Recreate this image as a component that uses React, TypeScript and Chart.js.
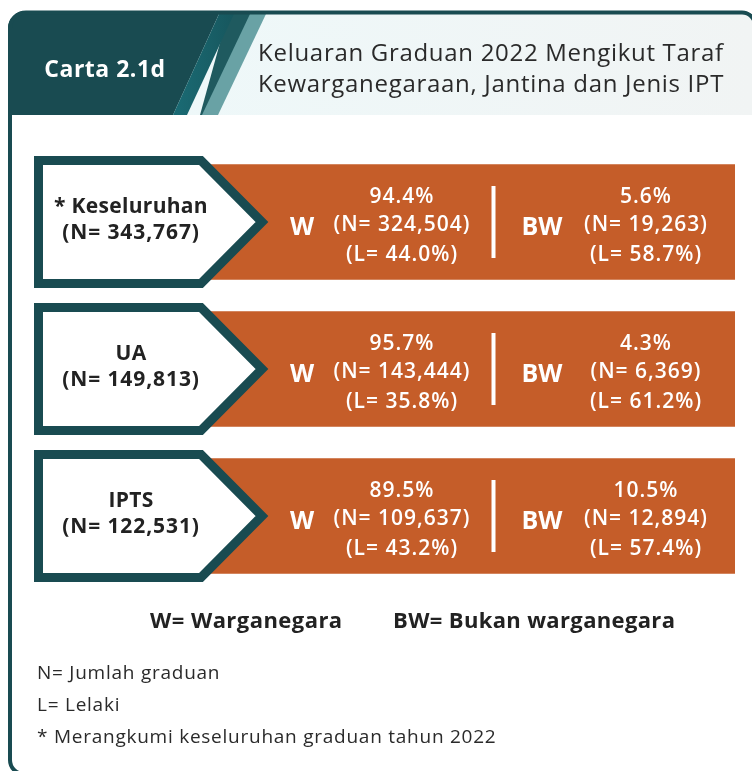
import React, { useEffect, useRef } from 'react';
import { Chart, registerables } from 'chart.js';

Chart.register(...registerables);

// ---------- data ----------
const categories = ['* Keseluruhan', 'UA', 'IPTS'];
const totalN = [343767, 149813, 122531];
const wPct = [94.4, 95.7, 89.5];
const wN = [324504, 143444, 109637];
const wMale = [44.0, 35.8, 43.2];
const bwPct = [5.6, 4.3, 10.5];
const bwN = [19263, 6369, 12894];
const bwMale = [58.7, 61.2, 57.4];
const bandValue = [100, 100, 100];

const chartCode = 'Carta 2.1d';
const titleLines = ['Keluaran Graduan 2022 Mengikut Taraf', 'Kewarganegaraan, Jantina dan Jenis IPT'];
const legendItems = ['W= Warganegara', 'BW= Bukan warganegara'];
const notes = ['N= Jumlah graduan', 'L= Lelaki', '* Merangkumi keseluruhan graduan tahun 2022'];

// ---------- style ----------
const DARK = '#194b51';
const ORANGE = '#c55d29';
const FONT = '"Open Sans", "Noto Sans", sans-serif';
const W = 752;
const H = 771;

const fmt = (n: number) => n.toLocaleString('en-US');
const pct = (v: number) => v.toFixed(1) + '%';

const infographicPlugin = {
  id: 'infographic',
  beforeDraw(chart: any) {
    const ctx = chart.ctx as CanvasRenderingContext2D;
    ctx.save();
    ctx.fillStyle = '#ffffff';
    ctx.fillRect(0, 0, W, H);

    // header clip (card top area)
    ctx.save();
    ctx.beginPath();
    ctx.moveTo(8, 200);
    ctx.lineTo(8, 28);
    ctx.arcTo(8, 11, 25, 11, 17);
    ctx.lineTo(741, 11);
    ctx.arcTo(756, 11, 756, 26, 14);
    ctx.lineTo(756, 200);
    ctx.closePath();
    ctx.clip();
    ctx.fillStyle = DARK;
    ctx.fillRect(0, 0, W, 115);
    const g = ctx.createLinearGradient(174, 0, 752, 0);
    g.addColorStop(0, '#eef8f9');
    g.addColorStop(1, '#f1f4f4');
    ctx.fillStyle = g;
    ctx.beginPath();
    ctx.moveTo(219, 14);
    ctx.lineTo(760, 14);
    ctx.lineTo(760, 115);
    ctx.lineTo(173, 115);
    ctx.closePath();
    ctx.fill();
    // dark wedge
    ctx.fillStyle = '#1f5a5f';
    ctx.beginPath();
    ctx.moveTo(228, 14);
    ctx.lineTo(252, 14);
    ctx.lineTo(204, 115);
    ctx.lineTo(200, 115);
    ctx.closePath();
    ctx.fill();
    // medium stripe
    const g2 = ctx.createLinearGradient(173, 0, 233, 0);
    g2.addColorStop(0, '#1a6b74');
    g2.addColorStop(1, '#17575e');
    ctx.fillStyle = g2;
    ctx.beginPath();
    ctx.moveTo(219, 14);
    ctx.lineTo(234, 14);
    ctx.lineTo(187, 115);
    ctx.lineTo(173, 115);
    ctx.closePath();
    ctx.fill();
    // light stripe
    ctx.fillStyle = '#69a2a5';
    ctx.beginPath();
    ctx.moveTo(250, 14);
    ctx.lineTo(266, 14);
    ctx.lineTo(218, 115);
    ctx.lineTo(202, 115);
    ctx.closePath();
    ctx.fill();
    ctx.restore();

    // card border: left side and top only (the rest runs off the page)
    ctx.strokeStyle = DARK;
    ctx.lineWidth = 4;
    ctx.beginPath();
    ctx.moveTo(40, 774);
    ctx.arcTo(10, 774, 10, 740, 14);
    ctx.lineTo(10, 28.5);
    ctx.arcTo(10, 12.5, 26, 12.5, 16);
    ctx.lineTo(742, 12.5);
    ctx.arcTo(755, 12.5, 755, 26, 13);
    ctx.lineTo(755, 60);
    ctx.stroke();
    ctx.restore();
  },
  afterDatasetsDraw(chart: any) {
    const ctx = chart.ctx as CanvasRenderingContext2D;
    const y = chart.scales.y;
    ctx.save();
    categories.forEach((cat, i) => {
      const c = y.getPixelForValue(i);
      // pentagon label box
      ctx.beginPath();
      ctx.moveTo(38.5, c - 61.5);
      ctx.lineTo(201, c - 61.5);
      ctx.lineTo(262, c);
      ctx.lineTo(201, c + 61.5);
      ctx.lineTo(38.5, c + 61.5);
      ctx.closePath();
      ctx.fillStyle = '#ffffff';
      ctx.fill();
      ctx.lineWidth = 9;
      ctx.lineJoin = 'miter';
      ctx.strokeStyle = DARK;
      ctx.stroke();

      ctx.textAlign = 'center';
      ctx.textBaseline = 'middle';
      ctx.fillStyle = '#222222';
      ctx.font = `bold 21px ${FONT}`;
      (ctx as any).letterSpacing = '0.3px';
      ctx.fillText(cat, 131, c - 15);
      (ctx as any).letterSpacing = '0.9px';
      ctx.fillText(`(N= ${fmt(totalN[i])})`, 131, c + 11);

      // W side
      ctx.fillStyle = '#ffffff';
      (ctx as any).letterSpacing = '0px';
      ctx.font = `bold 25px ${FONT}`;
      ctx.fillText('W', 302, c + 6);
      ctx.font = `600 21px ${FONT}`;
      (ctx as any).letterSpacing = '1px';
      ctx.fillText(pct(wPct[i]), 402, c - 25);
      ctx.fillText(`(N= ${fmt(wN[i])})`, 402, c + 3);
      ctx.fillText(`(L= ${pct(wMale[i])})`, 402, c + 33);

      // divider
      ctx.fillRect(491.5, c - 36, 4, 72);

      // BW side
      (ctx as any).letterSpacing = '0px';
      ctx.font = `bold 25px ${FONT}`;
      ctx.fillText('BW', 542, c + 6);
      ctx.font = `600 21px ${FONT}`;
      (ctx as any).letterSpacing = '1px';
      ctx.fillText(pct(bwPct[i]), 646, c - 25);
      ctx.fillText(`(N= ${fmt(bwN[i])})`, 646, c + 3);
      ctx.fillText(`(L= ${pct(bwMale[i])})`, 646, c + 33);
    });
    ctx.restore();
  },
};

export default function App() {
  const ref = useRef<HTMLCanvasElement>(null);
  useEffect(() => {
    if (!ref.current) return;
    const chart = new Chart(ref.current, {
      type: 'bar',
      data: {
        labels: categories,
        datasets: [
          {
            data: bandValue,
            backgroundColor: ORANGE,
            borderWidth: 0,
            barThickness: 115,
          },
        ],
      },
      options: {
        indexAxis: 'y',
        responsive: false,
        animation: false,
        events: [],
        layout: { padding: { left: 200, right: 17, top: 148.5, bottom: 181.5 } },
        scales: {
          x: { display: false, min: 0, max: 100 },
          y: { display: false, offset: true },
        },
        plugins: { legend: { display: false }, tooltip: { enabled: false } },
      },
      plugins: [infographicPlugin],
    });
    return () => chart.destroy();
  }, []);

  const abs = (s: React.CSSProperties): React.CSSProperties => ({ position: 'absolute', fontFamily: FONT, whiteSpace: 'nowrap', ...s });

  return (
    <div style={{ position: 'fixed', left: 0, top: 0, width: W, height: H, overflow: 'hidden', background: '#fff' }}>
      <canvas ref={ref} width={W} height={H} style={{ position: 'absolute', left: 0, top: 0, display: 'block' }} />
      <div style={abs({ left: 15, width: 180, top: 53, lineHeight: '30px', textAlign: 'center', color: '#fff', fontWeight: 700, fontSize: 23, letterSpacing: '0.5px' })}>
        {chartCode}
      </div>
      <div style={abs({ left: 235, width: 512, top: 36, lineHeight: '31px', textAlign: 'center', color: '#2a2a2a', fontSize: 24, letterSpacing: '0.7px' })}>
        {titleLines.map((t) => (
          <div key={t}>{t}</div>
        ))}
      </div>
      <div style={abs({ left: 150, top: 604, lineHeight: '30px', color: '#222', fontWeight: 700, fontSize: 22, letterSpacing: '0.45px' })}>{legendItems[0]}</div>
      <div style={abs({ left: 393, top: 604, lineHeight: '30px', color: '#222', fontWeight: 700, fontSize: 22, letterSpacing: '0.35px' })}>{legendItems[1]}</div>
      <div style={abs({ left: 37, top: 656, lineHeight: '32px', color: '#2a2a2a', fontSize: 19, letterSpacing: '0.75px' })}>
        {notes.map((t) => (
          <div key={t}>{t}</div>
        ))}
      </div>
    </div>
  );
}
